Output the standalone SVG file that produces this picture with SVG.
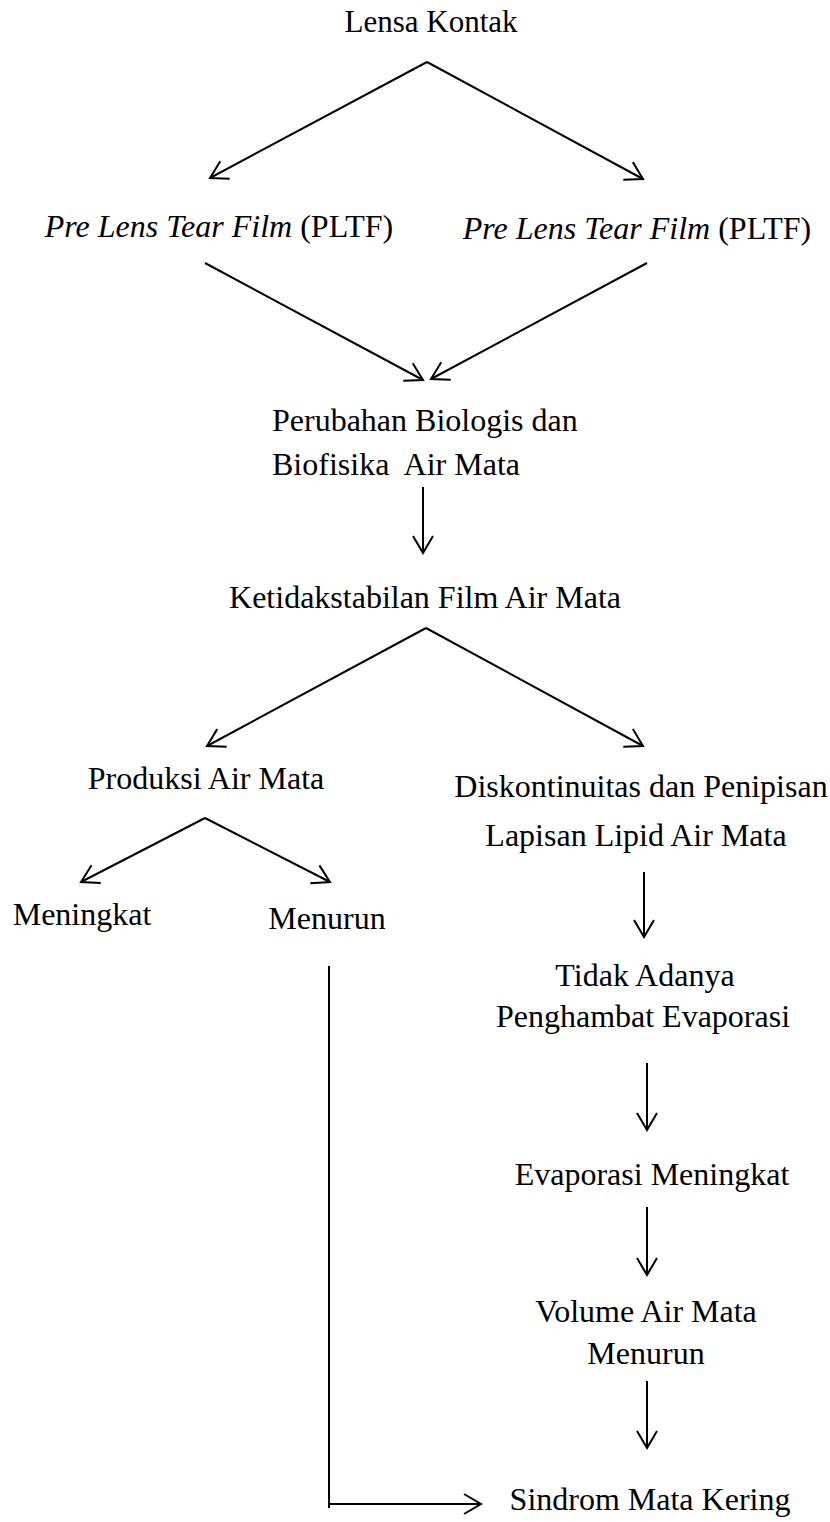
<svg xmlns="http://www.w3.org/2000/svg" width="830" height="1522" viewBox="0 0 830 1522">
<style>
text{font-family:"Liberation Serif","Times New Roman",serif;font-size:32px;fill:#000}
.m{text-anchor:middle}
.i{font-style:italic}
.c{stroke:#000;stroke-width:2;fill:none}
</style>
<defs>
<marker id="ah" markerUnits="userSpaceOnUse" viewBox="-20 -12 22 24" markerWidth="22" markerHeight="24" refX="0" refY="0" orient="auto">
<path d="M-17,-10 L0,0 L-17,10" fill="none" stroke="#000" stroke-width="2"/>
</marker>
</defs>
<rect width="830" height="1522" fill="#fff"/>
<g id="n1"><text class="m" x="431" y="32" style="font-size:31px">Lensa Kontak</text></g>
<g id="n2"><text class="m" x="219" y="237"><tspan class="i">Pre Lens Tear Film</tspan> (PLTF)</text></g>
<g id="n3"><text class="m" x="637" y="239"><tspan class="i">Pre Lens Tear Film</tspan> (PLTF)</text></g>
<g id="n4"><text x="272" y="431">Perubahan Biologis dan</text><text x="272" y="475" xml:space="preserve">Biofisika  Air Mata</text></g>
<g id="n5"><text class="m" x="425" y="608">Ketidakstabilan Film Air Mata</text></g>
<g id="n6"><text class="m" x="206" y="789">Produksi Air Mata</text></g>
<g id="n7"><text class="m" x="641" y="797">Diskontinuitas dan Penipisan</text><text class="m" x="636" y="846">Lapisan Lipid Air Mata</text></g>
<g id="n8"><text class="m" x="82" y="925">Meningkat</text></g>
<g id="n9"><text class="m" x="327" y="929">Menurun</text></g>
<g id="n10"><text class="m" x="645" y="986">Tidak Adanya</text><text class="m" x="643" y="1027">Penghambat Evaporasi</text></g>
<g id="n11"><text class="m" x="652" y="1185">Evaporasi Meningkat</text></g>
<g id="n12"><text class="m" x="646" y="1322">Volume Air Mata</text><text class="m" x="646" y="1364">Menurun</text></g>
<g id="n13"><text class="m" x="650" y="1510">Sindrom Mata Kering</text></g>
<g id="connectors" class="c">
<line class="c" x1="427" y1="62" x2="210" y2="178" marker-end="url(#ah)"/>
<line class="c" x1="427" y1="62" x2="643" y2="179" marker-end="url(#ah)"/>
<line class="c" x1="205" y1="263" x2="423" y2="380" marker-end="url(#ah)"/>
<line class="c" x1="647" y1="263" x2="431" y2="379" marker-end="url(#ah)"/>
<line class="c" x1="423" y1="487" x2="423" y2="553" marker-end="url(#ah)"/>
<line class="c" x1="426" y1="628" x2="207" y2="746" marker-end="url(#ah)"/>
<line class="c" x1="426" y1="628" x2="643" y2="746" marker-end="url(#ah)"/>
<line class="c" x1="205" y1="818" x2="81" y2="882" marker-end="url(#ah)"/>
<line class="c" x1="205" y1="818" x2="330" y2="882" marker-end="url(#ah)"/>
<line class="c" x1="644" y1="872" x2="644" y2="937" marker-end="url(#ah)"/>
<line class="c" x1="647" y1="1063" x2="647" y2="1130" marker-end="url(#ah)"/>
<line class="c" x1="647" y1="1207" x2="647" y2="1275" marker-end="url(#ah)"/>
<line class="c" x1="647" y1="1381" x2="647" y2="1448" marker-end="url(#ah)"/>
<polyline class="c" points="329,966 329,1508"/>
<line class="c" x1="329" y1="1504" x2="481" y2="1504" marker-end="url(#ah)"/>
</g>
</svg>
